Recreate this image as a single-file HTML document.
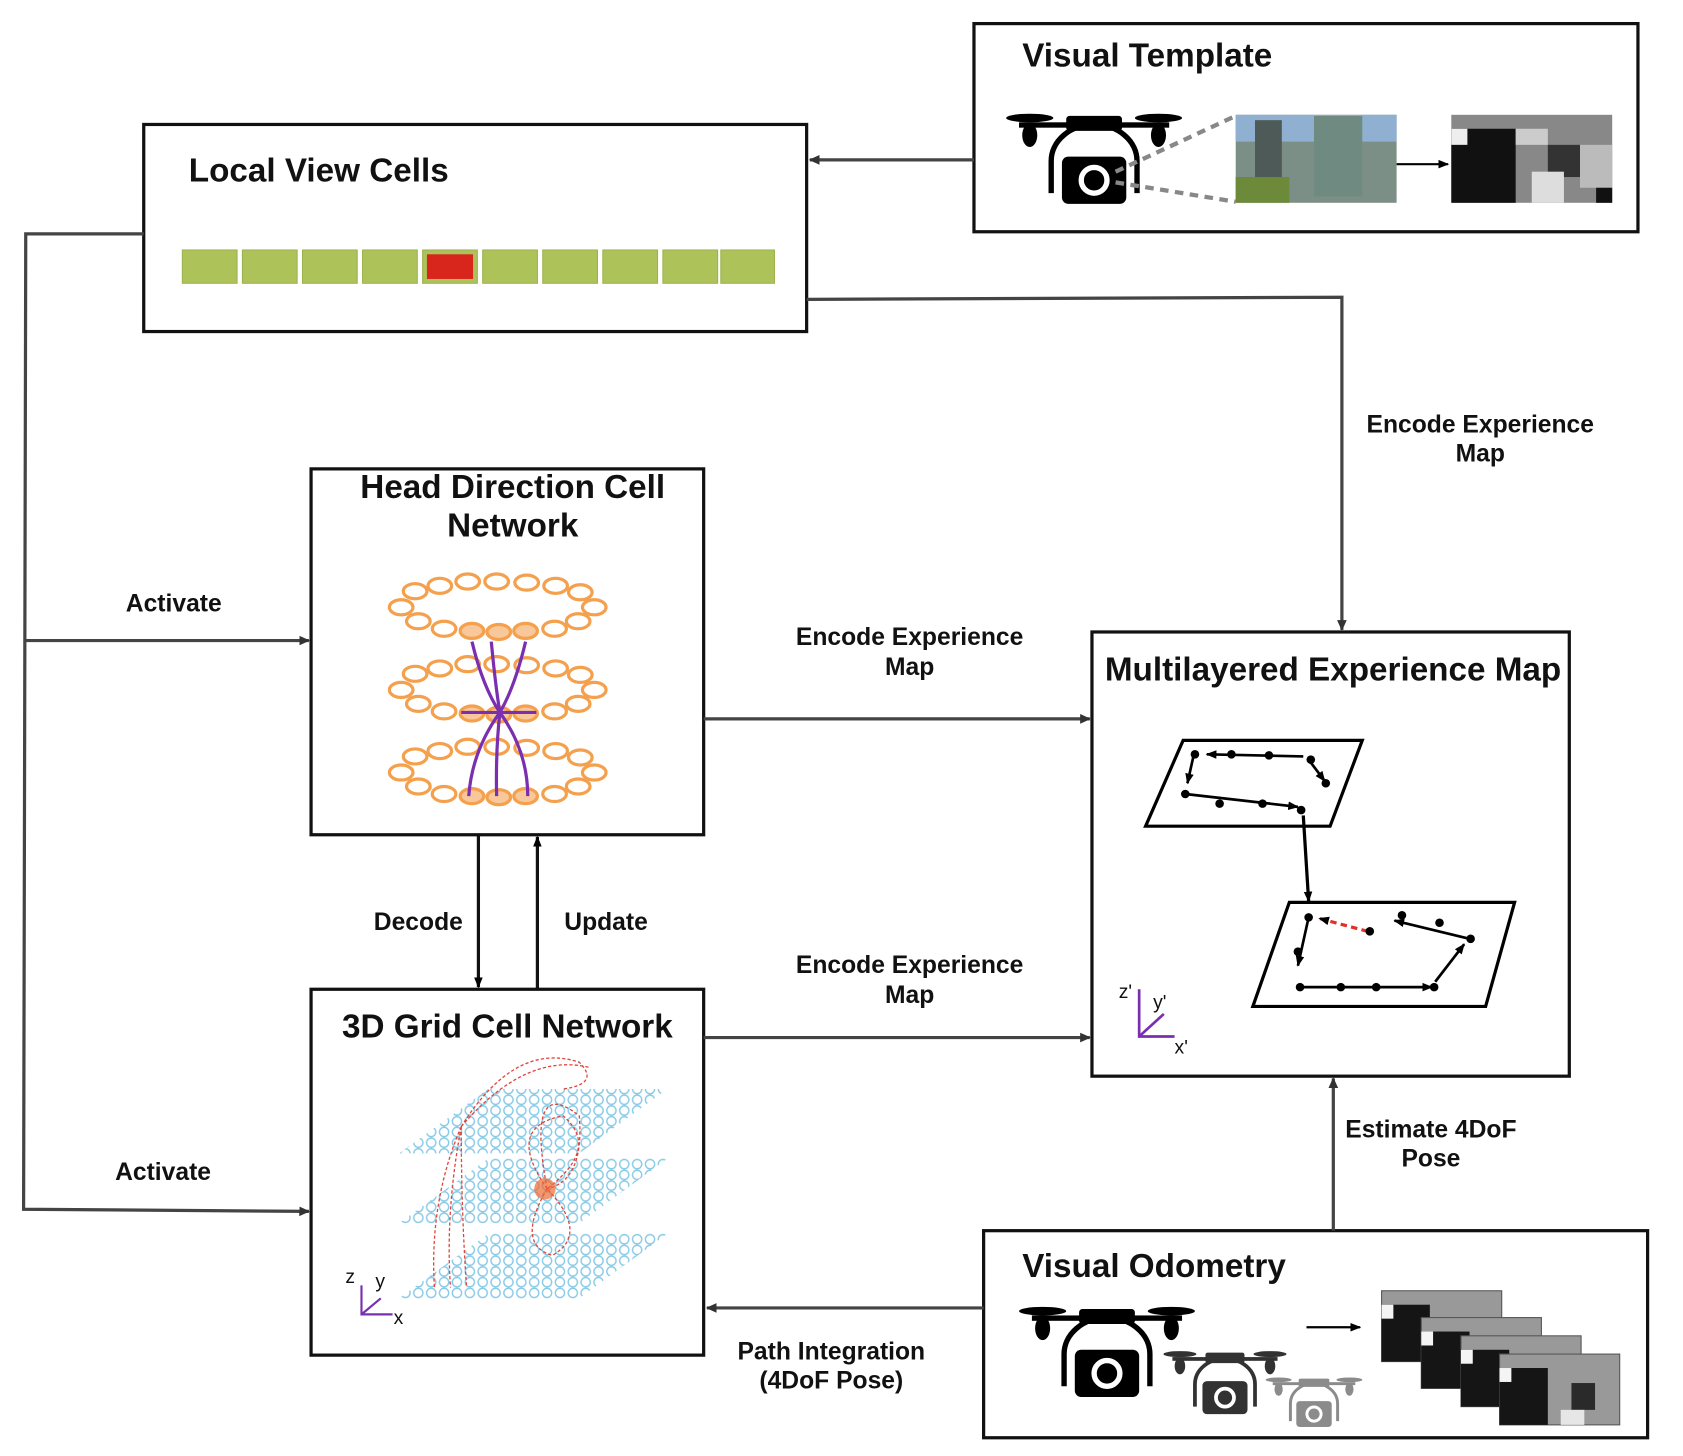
<!DOCTYPE html>
<html><head><meta charset="utf-8"><style>
html,body{margin:0;padding:0;background:#fff}
svg{display:block}
text{font-family:"Liberation Sans",Arial,sans-serif;font-weight:bold;fill:#111}
.t{font-size:31px}
.l{font-size:23px}
</style></head><body>
<svg width="1683" height="1456" viewBox="0 0 1569 1357" preserveAspectRatio="none" xmlns="http://www.w3.org/2000/svg">
<defs>
<marker id="a" markerWidth="10" markerHeight="10" refX="9" refY="5" orient="auto" markerUnits="userSpaceOnUse"><path d="M0,0.5 L10,5 L0,9.5 Z" fill="#333"/></marker>
<marker id="b" markerWidth="10" markerHeight="10" refX="9" refY="5" orient="auto" markerUnits="userSpaceOnUse"><path d="M0,1 L10,5 L0,9 Z" fill="#000"/></marker>
<pattern id="gc" width="12" height="10" patternUnits="userSpaceOnUse"><circle cx="6" cy="5" r="4.3" fill="none" stroke="#86c9e6" stroke-width="1.3"/></pattern>
<g id="drone">
<ellipse cx="-60" cy="-40" rx="22" ry="4" fill="#000"/><ellipse cx="60" cy="-40" rx="22" ry="4" fill="#000"/>
<rect x="-70" y="-36" width="140" height="5" fill="#000"/>
<ellipse cx="-60" cy="-24" rx="7" ry="11" fill="#000"/><ellipse cx="60" cy="-24" rx="7" ry="11" fill="#000"/>
<rect x="-26" y="-42" width="52" height="14" rx="3" fill="#000"/>
<path d="M-40,30 L-40,0 A40,34 0 0 1 40,0 L40,30" fill="none" stroke="#000" stroke-width="5"/>
<rect x="-30" y="-4" width="60" height="44" rx="6" fill="#000"/>
<circle cx="0" cy="18" r="12" fill="none" stroke="#fff" stroke-width="5"/>
</g>
</defs>

<g fill="none" stroke="#111" stroke-width="3">
<rect x="908" y="22" width="619" height="194"/>
<rect x="134" y="116" width="618" height="193"/>
<rect x="290" y="437" width="366" height="341"/>
<rect x="1018" y="589" width="445" height="414"/>
<rect x="290" y="922" width="366" height="341"/>
<rect x="917" y="1147" width="619" height="193"/>
</g>
<text class="t" x="953" y="62">Visual Template</text>
<text class="t" x="176" y="169">Local View Cells</text>
<text class="t" x="478" y="464" text-anchor="middle">Head Direction Cell</text>
<text class="t" x="478" y="500" text-anchor="middle">Network</text>
<text class="t" x="1030" y="634">Multilayered Experience Map</text>
<text class="t" x="473" y="967" text-anchor="middle">3D Grid Cell Network</text>
<text class="t" x="953" y="1190">Visual Odometry</text>

<g fill="#adc35a" stroke="#9cb24c">
<rect x="170" y="233" width="51" height="31"/><rect x="226" y="233" width="51" height="31"/><rect x="282" y="233" width="51" height="31"/><rect x="338" y="233" width="51" height="31"/>
<rect x="394" y="233" width="51" height="31"/><rect x="450" y="233" width="51" height="31"/><rect x="506" y="233" width="51" height="31"/><rect x="562" y="233" width="51" height="31"/><rect x="618" y="233" width="51" height="31"/><rect x="672" y="233" width="50" height="31"/>
</g>
<rect x="398" y="237" width="43" height="23" fill="#d9261c"/>

<g stroke="#444" stroke-width="3" fill="none">
<line x1="908" y1="149" x2="755" y2="149" marker-end="url(#a)"/>
<polyline points="752,279 1251,277 1251,587" marker-end="url(#a)"/>
<polyline points="134,218 24,218 22,1127 288,1129" marker-end="url(#a)"/>
<line x1="23" y1="597" x2="288" y2="597" marker-end="url(#a)"/>
<line x1="656" y1="670" x2="1016" y2="670" marker-end="url(#a)"/>
<line x1="656" y1="967" x2="1016" y2="967" marker-end="url(#a)"/>
<line x1="1243" y1="1147" x2="1243" y2="1005" marker-end="url(#a)"/>
<line x1="917" y1="1219" x2="659" y2="1219" marker-end="url(#a)"/>
</g>
<g stroke="#111" stroke-width="3">
<line x1="446" y1="778" x2="446" y2="920" marker-end="url(#b)"/>
<line x1="501" y1="922" x2="501" y2="780" marker-end="url(#b)"/>
</g>
<text class="l" x="1380" y="403" text-anchor="middle">Encode Experience</text>
<text class="l" x="1380" y="430" text-anchor="middle">Map</text>
<text class="l" x="162" y="570" text-anchor="middle">Activate</text>
<text class="l" x="152" y="1100" text-anchor="middle">Activate</text>
<text class="l" x="848" y="601" text-anchor="middle">Encode Experience</text>
<text class="l" x="848" y="629" text-anchor="middle">Map</text>
<text class="l" x="848" y="907" text-anchor="middle">Encode Experience</text>
<text class="l" x="848" y="935" text-anchor="middle">Map</text>
<text class="l" x="390" y="867" text-anchor="middle">Decode</text>
<text class="l" x="565" y="867" text-anchor="middle">Update</text>
<text class="l" x="1334" y="1060" text-anchor="middle">Estimate 4DoF</text>
<text class="l" x="1334" y="1087" text-anchor="middle">Pose</text>
<text class="l" x="775" y="1267" text-anchor="middle">Path Integration</text>
<text class="l" x="775" y="1294" text-anchor="middle">(4DoF Pose)</text>

<use href="#drone" x="1020" y="150"/>
<g stroke="#888" stroke-width="4" stroke-dasharray="8,6"><line x1="1040" y1="160" x2="1152" y2="108"/><line x1="1040" y1="170" x2="1152" y2="188"/></g>
<rect x="1152" y="107" width="150" height="82" fill="#7c8f86"/>
<rect x="1152" y="107" width="150" height="25" fill="#8fb0d0"/>
<rect x="1170" y="112" width="25" height="60" fill="#4d5a58"/><rect x="1225" y="108" width="45" height="75" fill="#6f8a80"/>
<rect x="1152" y="165" width="50" height="24" fill="#6c8a3a"/>
<line x1="1302" y1="153" x2="1350" y2="153" stroke="#000" stroke-width="2" marker-end="url(#b)"/>
<g>
<rect x="1353" y="107" width="150" height="82" fill="#888"/>
<rect x="1353" y="120" width="60" height="69" fill="#111"/>
<rect x="1353" y="120" width="15" height="15" fill="#eee"/>
<rect x="1413" y="120" width="30" height="15" fill="#ccc"/>
<rect x="1443" y="135" width="30" height="30" fill="#333"/>
<rect x="1428" y="160" width="30" height="29" fill="#ddd"/>
<rect x="1473" y="135" width="30" height="40" fill="#bbb"/>
<rect x="1488" y="175" width="15" height="14" fill="#111"/>
</g>

<g fill="none" stroke="#f4a04c" stroke-width="3">
<g id="ring">
<ellipse cx="374" cy="566" rx="11" ry="7"/><ellipse cx="387" cy="551" rx="11" ry="7"/><ellipse cx="410" cy="546" rx="11" ry="7"/><ellipse cx="436" cy="542" rx="11" ry="7"/><ellipse cx="463" cy="542" rx="11" ry="7"/><ellipse cx="491" cy="543" rx="11" ry="7"/><ellipse cx="518" cy="546" rx="11" ry="7"/><ellipse cx="541" cy="552" rx="11" ry="7"/><ellipse cx="554" cy="566" rx="11" ry="7"/><ellipse cx="539" cy="579" rx="11" ry="7"/><ellipse cx="517" cy="586" rx="11" ry="7"/><ellipse cx="490" cy="588" rx="11" ry="7" fill="#f8c79a"/><ellipse cx="465" cy="589" rx="11" ry="7" fill="#f8c79a"/><ellipse cx="440" cy="588" rx="11" ry="7" fill="#f8c79a"/><ellipse cx="414" cy="586" rx="11" ry="7"/><ellipse cx="390" cy="579" rx="11" ry="7"/>
</g>
<use href="#ring" y="77"/><use href="#ring" y="154"/>
</g>
<g fill="none" stroke="#7a2fb0" stroke-width="3">
<path d="M440,598 Q450,640 466,664 Q440,700 437,742"/>
<path d="M490,598 Q480,640 466,664 Q492,700 492,742"/>
<path d="M458,598 Q462,640 466,664 Q462,700 463,742"/>
<path d="M430,664 L500,664"/>
</g>

<g>
<polygon points="372,1075 540,1075 622,1015 455,1015" fill="url(#gc)"/>
<polygon points="372,1140 540,1140 622,1080 455,1080" fill="url(#gc)"/>
<polygon points="372,1210 540,1210 622,1150 455,1150" fill="url(#gc)"/>
</g>
<g fill="none" stroke="#e0443a" stroke-width="1.2" stroke-dasharray="3,2">
<path d="M430,1050 Q480,970 540,990 Q560,1010 525,1015"/>
<path d="M430,1050 Q490,980 550,995"/>
<path d="M430,1050 Q400,1120 405,1200"/><path d="M430,1050 Q415,1130 420,1200"/><path d="M430,1050 Q430,1130 435,1200"/>
<path d="M510,1108 Q470,1050 525,1040 Q560,1070 510,1108"/>
<path d="M510,1108 Q480,1160 515,1170 Q550,1150 510,1108"/>
<path d="M510,1108 Q490,1000 540,1040 Q545,1100 510,1108"/>
</g>
<circle cx="508" cy="1108" r="10" fill="#f06a30" opacity="0.7"/>
<g stroke="#7a2fb0" stroke-width="2" fill="none"><polyline points="337,1198 337,1225 366,1225"/><line x1="337" y1="1225" x2="355" y2="1210"/></g>
<text x="322" y="1196" style="font-size:18px;font-weight:normal">z</text><text x="350" y="1200" style="font-size:18px;font-weight:normal">y</text><text x="367" y="1234" style="font-size:18px;font-weight:normal">x</text>

<g fill="none" stroke="#000" stroke-width="3">
<polygon points="1068,770 1240,770 1270,690 1103,690"/>
<polygon points="1168,938 1385,938 1412,841 1202,841"/>
<line x1="1215" y1="760" x2="1220" y2="840" marker-end="url(#b)"/>
</g>
<g stroke="#000" stroke-width="2.5">
<line x1="1215" y1="705" x2="1125" y2="703" marker-end="url(#b)"/>
<line x1="1113" y1="703" x2="1107" y2="730" marker-end="url(#b)"/>
<line x1="1105" y1="740" x2="1210" y2="752" marker-end="url(#b)"/>
<line x1="1220" y1="708" x2="1235" y2="728" marker-end="url(#b)"/>
<line x1="1370" y1="875" x2="1300" y2="858" marker-end="url(#b)"/>
<line x1="1220" y1="855" x2="1210" y2="900" marker-end="url(#b)"/>
<line x1="1212" y1="920" x2="1335" y2="920" marker-end="url(#b)"/>
<line x1="1338" y1="915" x2="1365" y2="880" marker-end="url(#b)"/>
</g>
<line x1="1275" y1="868" x2="1230" y2="856" stroke="#e0302a" stroke-width="3" stroke-dasharray="6,4" marker-end="url(#b)"/>
<g fill="#000">
<circle cx="1114" cy="703" r="4"/><circle cx="1148" cy="703" r="4"/><circle cx="1183" cy="704" r="4"/><circle cx="1222" cy="708" r="4"/><circle cx="1236" cy="730" r="4"/>
<circle cx="1105" cy="740" r="4"/><circle cx="1137" cy="749" r="4"/><circle cx="1177" cy="749" r="4"/><circle cx="1213" cy="755" r="4"/>
<circle cx="1220" cy="855" r="4"/><circle cx="1210" cy="887" r="4"/><circle cx="1212" cy="920" r="4"/><circle cx="1250" cy="920" r="4"/><circle cx="1283" cy="920" r="4"/><circle cx="1337" cy="920" r="4"/><circle cx="1371" cy="875" r="4"/><circle cx="1342" cy="860" r="4"/><circle cx="1307" cy="853" r="4"/><circle cx="1277" cy="868" r="4"/>
</g>
<g stroke="#7a2fb0" stroke-width="2.5" fill="none"><polyline points="1062,922 1062,966 1095,966"/><line x1="1062" y1="966" x2="1085" y2="945"/></g>
<text x="1043" y="930" style="font-size:18px;font-weight:normal">z'</text><text x="1075" y="940" style="font-size:18px;font-weight:normal">y'</text><text x="1095" y="982" style="font-size:18px;font-weight:normal">x'</text>

<use href="#drone" x="1032" y="1262"/>
<g transform="translate(1142,1290) scale(0.7)" opacity="0.8"><use href="#drone"/></g>
<g transform="translate(1225,1308) scale(0.55)" opacity="0.45"><use href="#drone"/></g>
<line x1="1218" y1="1237" x2="1268" y2="1237" stroke="#000" stroke-width="2" marker-end="url(#b)"/>
<g id="pg" stroke="#555" stroke-width="1">
<rect x="1288" y="1203" width="112" height="66" fill="#999"/>
<rect x="1288" y="1216" width="45" height="53" fill="#151515" stroke="none"/>
<rect x="1288" y="1216" width="11" height="13" fill="#f4f4f4" stroke="none"/>
<rect x="1355" y="1230" width="22" height="25" fill="#2a2a2a" stroke="none"/>
<rect x="1345" y="1255" width="22" height="14" fill="#e6e6e6" stroke="none"/>
</g>
<use href="#pg" x="37" y="25"/><use href="#pg" x="74" y="42"/><use href="#pg" x="110" y="59"/>
</svg>
</body></html>
